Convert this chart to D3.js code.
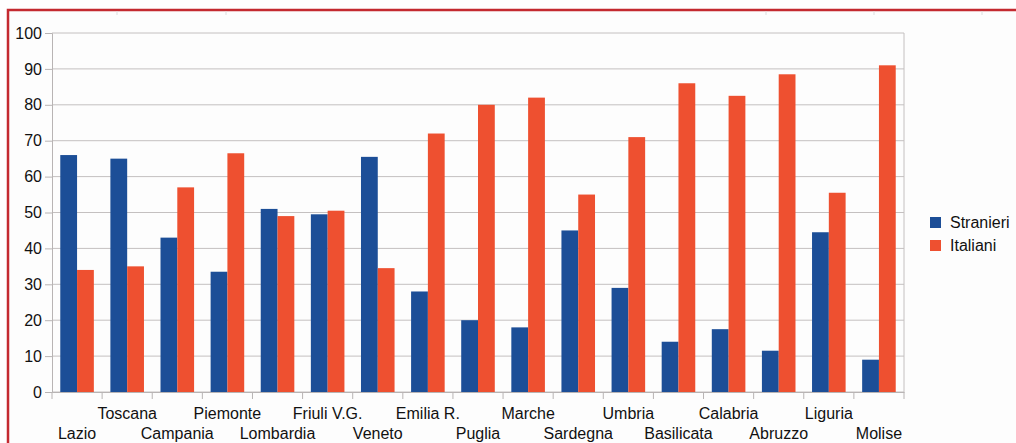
<!DOCTYPE html>
<html>
<head>
<meta charset="utf-8">
<script src="https://cdn.jsdelivr.net/npm/d3@7"></script>
<style>
  body { margin: 0; background: #fff; }
  svg { display: block; font-family: "Liberation Sans", Arial, sans-serif; }
</style>
</head>
<body>
<div id="viz"></div>
<script>
// data
var regions = ["Lazio", "Toscana", "Campania", "Piemonte", "Lombardia", "Friuli V.G.", "Veneto",
  "Emilia R.", "Puglia", "Marche", "Sardegna", "Umbria", "Basilicata", "Calabria", "Abruzzo",
  "Liguria", "Molise"];
var stranieri = [66, 65, 43, 33.5, 51, 49.5, 65.5, 28, 20, 18, 45, 29, 14, 17.5, 11.5, 44.5, 9];
var italiani = [34, 35, 57, 66.5, 49, 50.5, 34.5, 72, 80, 82, 55, 71, 86, 82.5, 88.5, 55.5, 91];
var seriesNames = ["Stranieri", "Italiani"];
var colors = ["#1c4e97", "#ee5030"];
var yTicks = [0, 10, 20, 30, 40, 50, 60, 70, 80, 90, 100];

var W = 1016, H = 443;
var margin = {top: 33, left: 52, right: 112, bottom: 51};
var width = W - margin.left - margin.right,
    height = H - margin.top - margin.bottom;

var svg = d3.select("#viz").append("svg")
    .attr("width", W)
    .attr("height", H);

// page frame
svg.append("rect").attr("x", 8).attr("y", 10).attr("width", W).attr("height", H)
    .attr("fill", "#fdfdfd").attr("stroke", "#c42a30").attr("stroke-width", 2.5);
[117, 226, 766, 874, 982].forEach(function(x) {
  svg.append("line").attr("x1", x).attr("x2", x).attr("y1", 11).attr("y2", 15)
      .attr("stroke", "#ddd").attr("stroke-width", 1);
});

var g = svg.append("g").attr("transform", "translate(" + margin.left + "," + margin.top + ")");

var x = d3.scaleBand().domain(regions).range([0, width]).paddingInner(0.33).paddingOuter(0.165);
var xs = d3.scaleBand().domain(seriesNames).range([0, x.bandwidth()]);
var y = d3.scaleLinear().domain([0, 100]).range([height, 0]);

// grid
g.selectAll(".grid").data(yTicks).enter().append("line")
    .attr("x1", 0).attr("x2", width)
    .attr("y1", function(d) { return y(d); }).attr("y2", function(d) { return y(d); })
    .attr("stroke", "#c4c0c0").attr("stroke-width", 1);
g.append("line").attr("x1", width).attr("x2", width).attr("y1", 0).attr("y2", height)
    .attr("stroke", "#c4c0c0");

// bars
var data = regions.map(function(r, i) { return {r: r, v: [stranieri[i], italiani[i]]}; });
var grp = g.selectAll(".grp").data(data).enter().append("g")
    .attr("transform", function(d) { return "translate(" + x(d.r) + ",0)"; });
grp.selectAll("rect").data(function(d) { return d.v; }).enter().append("rect")
    .attr("x", function(d, i) { return xs(seriesNames[i]); })
    .attr("width", xs.bandwidth())
    .attr("y", function(d) { return y(d); })
    .attr("height", function(d) { return height - y(d); })
    .attr("fill", function(d, i) { return colors[i]; });

// y axis
var yAxis = g.append("g").call(d3.axisLeft(y).tickValues(yTicks).tickSize(7).tickPadding(3));
yAxis.select(".domain").attr("stroke", "#b8b4b4");
yAxis.selectAll(".tick line").attr("stroke", "#b8b4b4");
yAxis.selectAll("text").attr("font-size", 16).attr("fill", "#111")
    .attr("font-family", "Liberation Sans, Arial, sans-serif");

// x axis
var xAxis = g.append("g").attr("transform", "translate(0," + height + ")")
    .call(d3.axisBottom(x).tickSize(0).tickPadding(0));
xAxis.select(".domain").attr("stroke", "#b8b4b4");
xAxis.selectAll(".tick text").remove();
var bounds = regions.map(function(r) { return x(r) - x.step() * x.paddingInner() / 2; });
bounds.push(width);
g.selectAll(".xt").data(bounds).enter().append("line")
    .attr("x1", function(d) { return d; }).attr("x2", function(d) { return d; })
    .attr("y1", height).attr("y2", height + 7)
    .attr("stroke", "#b8b4b4");
g.selectAll(".xl").data(regions).enter().append("text")
    .attr("x", function(d) { return x(d) + x.bandwidth() / 2; })
    .attr("y", function(d, i) { return height + (i % 2 ? 27 : 47); })
    .attr("text-anchor", "middle")
    .attr("font-size", 16).attr("fill", "#111")
    .text(function(d) { return d; });

// legend
var leg = svg.append("g").attr("transform", "translate(930,217)");
seriesNames.forEach(function(s, i) {
  leg.append("rect").attr("x", 0).attr("y", i * 23).attr("width", 11).attr("height", 11)
      .attr("fill", colors[i]);
  leg.append("text").attr("x", 20).attr("y", i * 23 + 11)
      .attr("font-size", 16).attr("fill", "#111").text(s);
});
</script>
</body>
</html>
